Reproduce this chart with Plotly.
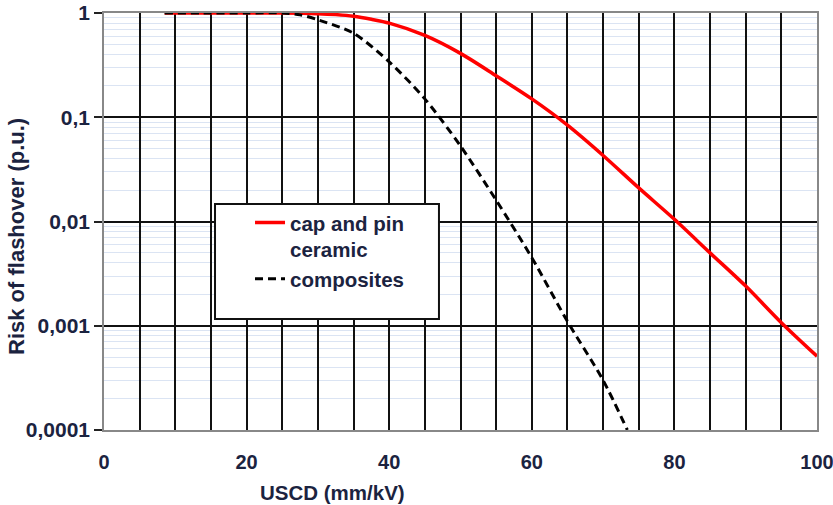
import plotly.graph_objects as go

# ---- data ----
usd_cap = [8.5, 15, 20, 25, 30, 32.5, 35, 37.5, 40, 45, 50, 55, 60, 65, 70, 75, 80, 85, 90, 95, 100]
risk_cap = [1, 1, 1, 1, 0.985, 0.965, 0.93, 0.87, 0.80, 0.61, 0.41, 0.25, 0.15, 0.084, 0.043,
            0.021, 0.0105, 0.0050, 0.0024, 0.00107, 0.00051]

usd_comp = [8.5, 15, 20, 25, 27.5, 30, 35, 40, 45, 50, 55, 60, 65, 70, 73.4]
risk_comp = [1, 1, 1, 1, 0.96, 0.86, 0.64, 0.34, 0.15, 0.053, 0.016, 0.0045, 0.0011,
             0.0003, 0.0001]

x_grid_vals = list(range(0, 101, 5))
x_tick_text = [str(v) if v % 20 == 0 else "" for v in x_grid_vals]
y_tick_vals = [0.0001, 0.001, 0.01, 0.1, 1]
y_tick_text = ["0,0001", "0,001", "0,01", "0,1", "1"]
y_minor_vals = [m * 10 ** e for e in range(-4, 0) for m in range(2, 10)]

TXT = "#1b2340"
FONT = "Arial, 'Liberation Sans', sans-serif"

fig = go.Figure()
fig.add_trace(go.Scatter(
    x=usd_cap, y=risk_cap, mode="lines", name="cap and pin<br>ceramic",
    line=dict(color="#ff0000", width=3.5, shape="spline", smoothing=0.8)))
fig.add_trace(go.Scatter(
    x=usd_comp, y=risk_comp, mode="lines", name="composites",
    line=dict(color="#000000", width=3, dash="8px,5px", shape="spline", smoothing=0.8)))

fig.update_xaxes(
    range=[0, 100], tickvals=x_grid_vals, ticktext=x_tick_text, automargin=False,
    ticklabeloverflow="allow",
    showgrid=True, gridcolor="#111111", gridwidth=1.5,
    ticks="outside", ticklen=13, tickcolor="rgba(0,0,0,0)",
    tickfont=dict(family=FONT, size=20, color=TXT, weight="bold"),
    showline=True, linecolor="#888888", linewidth=1.5, mirror=True, zeroline=False)

fig.update_yaxes(
    type="log", range=[-4, 0], tickvals=y_tick_vals, ticktext=y_tick_text, automargin=False,
    ticklabeloverflow="allow",
    showgrid=True, gridcolor="#111111", gridwidth=1.5,
    minor=dict(tickvals=y_minor_vals, showgrid=True, gridcolor="#dbe4f3", gridwidth=1,
               ticks=""),
    ticks="outside", ticklen=8, tickwidth=1.5, tickcolor="#222222",
    tickfont=dict(family=FONT, size=21, color=TXT, weight="bold"),
    showline=True, linecolor="#888888", linewidth=1.5, mirror=True, zeroline=False)

# legend frame
fig.add_shape(type="rect", xref="paper", yref="paper",
              x0=0.1557, x1=0.4698, y0=0.266, y1=0.542,
              line=dict(color="#111111", width=2), fillcolor="white", layer="above")

fig.update_layout(
    width=833, height=505,
    margin=dict(l=104, r=16, t=13, b=75, autoexpand=False),
    plot_bgcolor="white", paper_bgcolor="white",
    showlegend=True,
    legend=dict(x=0.2048, y=0.545, xanchor="left", yanchor="top", valign="top",
                bgcolor="rgba(0,0,0,0)", borderwidth=0,
                font=dict(family=FONT, size=20.5, color=TXT, weight="bold"),
                tracegroupgap=2, itemwidth=30),
    annotations=[
        dict(text="USCD (mm/kV)", xref="paper", yref="paper",
             x=(332 - 104) / 713, y=-(492 - 430) / 417, xanchor="center", yanchor="middle",
             showarrow=False, font=dict(family=FONT, size=20.5, color=TXT, weight="bold")),
        dict(text="Risk of flashover (p.u.)", xref="paper", yref="paper",
             x=-(104 - 16) / 713, y=(430 - 237) / 417, xanchor="center", yanchor="middle",
             textangle=-90, showarrow=False,
             font=dict(family=FONT, size=22, color=TXT, weight="bold")),
    ],
)

fig.write_html("out.html")
